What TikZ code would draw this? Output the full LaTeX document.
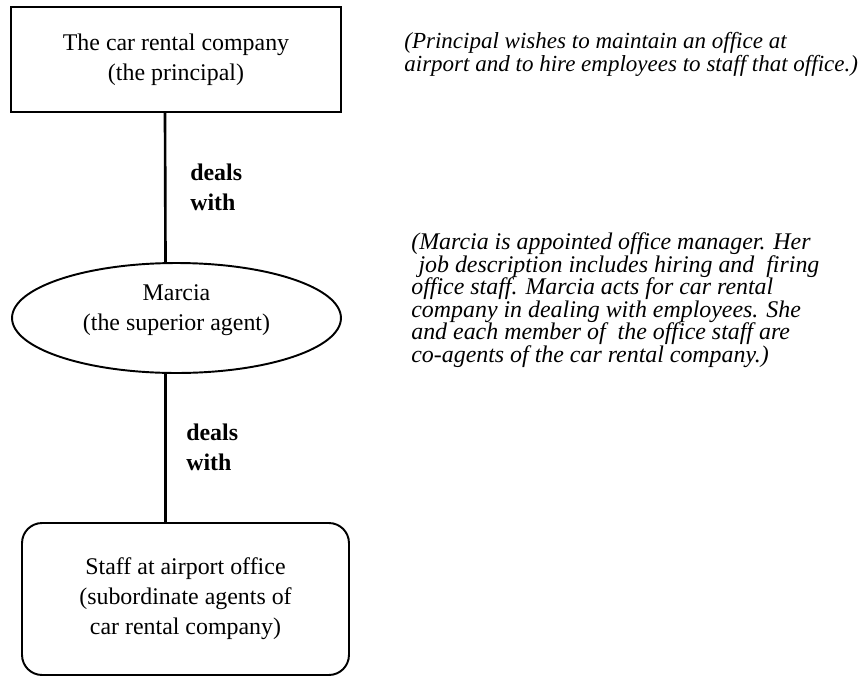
\documentclass[tikz,border=0pt]{standalone}
\usepackage{fontspec}
\setmainfont{Liberation Serif}
\usetikzlibrary{shapes.geometric}

\begin{document}
\begin{tikzpicture}[x=0.02cm, y=-0.02cm,
    partybox/.style={draw, line width=1.1pt, align=center, font=\fontsize{13.6}{17}\selectfont},
    dealsline/.style={line width=1.5pt},
    dealslabel/.style={anchor=west, inner sep=0pt, align=left, font=\fontsize{13.6}{17}\selectfont\bfseries},
    notetext/.style={anchor=west, inner sep=0pt, align=left, font=\fontsize{13.6}{12.8}\selectfont\itshape}]
    \useasboundingbox (0, 0) rectangle (860, 677);

    \node[partybox, rectangle, minimum width=6.6cm, minimum height=2.1cm] (company) at (176, 59.5)
        {The car rental company\\(the principal)};
    \node[partybox, ellipse, minimum width=6.58cm, minimum height=2.2cm] (marcia) at (176.5, 318) {};
    \node[align=center, font=\fontsize{13.6}{17}\selectfont] (marcialbl) at (176.5, 310)
        {Marcia\\(the superior agent)};
    \node[partybox, rectangle, rounded corners=0.4cm, minimum width=6.54cm, minimum height=3.04cm] (staff) at (185.5, 599)
        {Staff at airport office\\(subordinate agents of\\car rental company)};

    \node[dealslabel] (deals1) at (190, 187) {deals\\with};
    \node[dealslabel] (deals2) at (186, 447) {deals\\with};

    \node[notetext, font=\fontsize{13.1}{12}\selectfont\itshape] (note1) at (404, 54)
        {(Principal wishes to maintain an office at\\airport and to hire employees to staff that office.)};
    \node[notetext] (note2) at (411, 300)
        {(Marcia is appointed office manager. Her\\
         \hspace{0.3em}job description includes hiring and \ firing\\
         office staff. Marcia acts for car rental\\
         company in dealing with employees. She\\
         and each member of \ the office staff are\\
         co-agents of the car rental company.)};

    \draw[dealsline] ([xshift=-0.22cm]company.south) -- ([xshift=-0.22cm]marcia.north);
    \draw[dealsline] ([xshift=-0.22cm]marcia.south) -- ([xshift=-0.22cm]marcia.south |- staff.north);
  \end{tikzpicture}
\end{document}
